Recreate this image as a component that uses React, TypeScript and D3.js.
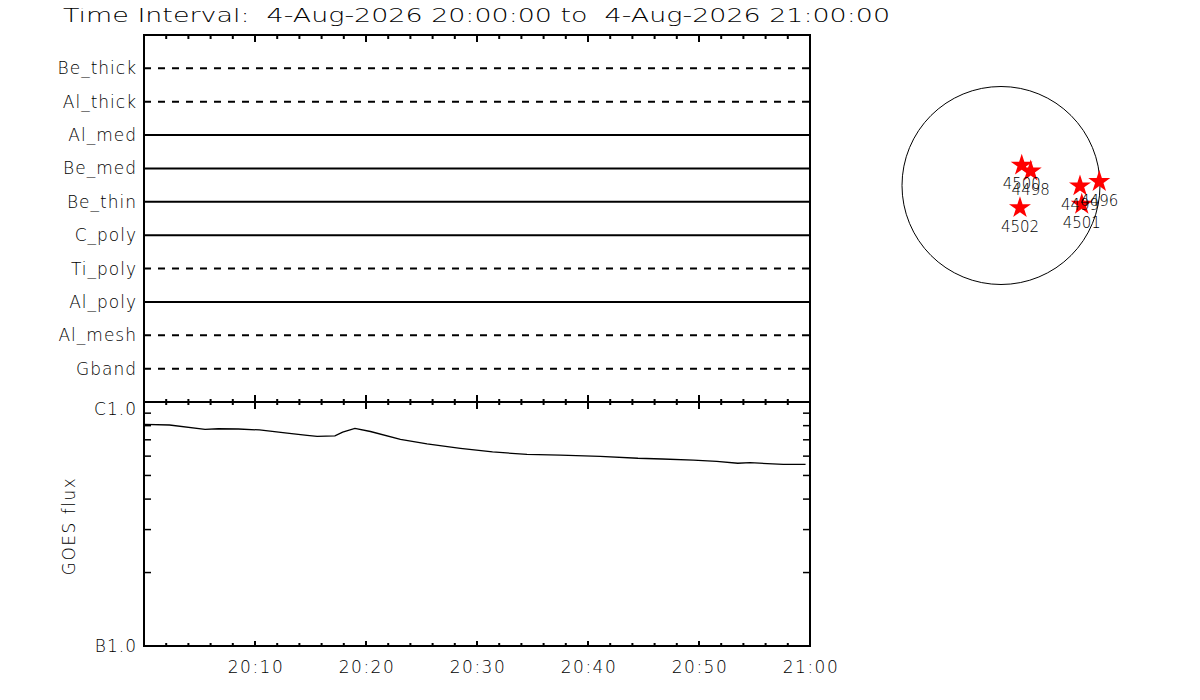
import React from "react";
import * as d3 from "d3";

// filter rows of the upper panel (top to bottom)
const filters = ["Be_thick", "Al_thick", "Al_med", "Be_med", "Be_thin", "C_poly", "Ti_poly", "Al_poly", "Al_mesh", "Gband"];
const filterDashed = [true, true, false, false, false, false, true, false, true, true];

// GOES flux, minutes after 20:00 UT / W m^-2
const goesMinutes = [0, 2.3, 5.5, 6.7, 8.5, 10.4, 12.9, 14.7, 15.6, 17.2, 17.9, 19.0, 20.4, 23.1, 25.5, 28.5, 31.4, 34.5, 37.5, 41.1, 44.5, 46.7, 49.5, 51.6, 53.5, 54.6, 57.6, 59.6];
const goesFlux = [8.1e-7, 8.05e-7, 7.73e-7, 7.77e-7, 7.75e-7, 7.68e-7, 7.46e-7, 7.3e-7, 7.23e-7, 7.26e-7, 7.53e-7, 7.8e-7, 7.57e-7, 7.03e-7, 6.73e-7, 6.46e-7, 6.24e-7, 6.1e-7, 6.06e-7, 5.99e-7, 5.88e-7, 5.84e-7, 5.78e-7, 5.71e-7, 5.61e-7, 5.64e-7, 5.55e-7, 5.55e-7];

// active regions on the disk (arcsec, solar x / y)
const arNumbers = ["4500", "4498", "4502", "4499", "4496", "4501"];
const arX = [201, 288, 184, 766, 953, 783];
const arY = [206, 150, -206, 5, 47, -173];

const FONT = "'DejaVu Sans', 'Liberation Sans', sans-serif";

const App = () => {
  const W = 1200;
  const H = 700;
  const left = 144;
  const right = 810;
  const top1 = 35;
  const bot1 = 402;
  const bot2 = 646;

  const t0 = new Date(Date.UTC(2026, 7, 4, 20, 0, 0));
  const t1 = new Date(Date.UTC(2026, 7, 4, 21, 0, 0));
  const x = d3.scaleUtc().domain([t0, t1]).range([left, right]);
  const majorTicks = x.ticks(d3.utcMinute.every(10)!);
  const minorTicks = x.ticks(d3.utcMinute.every(2)!);
  const fmt = d3.utcFormat("%H:%M");

  const yRow = d3.scalePoint<string>().domain(filters).range([top1, bot1]).padding(1);
  const yLog = d3.scaleLog().domain([1e-7, 1e-6]).range([bot2, bot1]);
  const logTicks = d3.range(2, 10).map((k) => k * 1e-7);

  const goesLine = d3
    .line<number>()
    .x((_, i) => x(new Date(t0.getTime() + goesMinutes[i] * 60000)))
    .y((d) => yLog(d));

  // disk
  const cx = 1001;
  const cy = 185.5;
  const rDisk = 99;
  const sx = d3.scaleLinear().domain([-960, 960]).range([cx - rDisk, cx + rDisk]);
  const sy = d3.scaleLinear().domain([-960, 960]).range([cy + rDisk, cy - rDisk]);
  const star = d3.symbol(d3.symbolStar, 150)()!;

  const tickLen = (t: Date, major: number, minor: number) =>
    majorTicks.some((m) => +m === +t) ? major : minor;

  return (
    <svg width={W} height={H} style={{ display: "block", margin: -8, background: "#fff" }} fontFamily={FONT} fontWeight={200}>
      <rect width={W} height={H} fill="#fff" />
      <text x={63} y={22} fontSize={19} textLength={827} lengthAdjust="spacingAndGlyphs" style={{ whiteSpace: "pre" }}>
        {"Time Interval:  4-Aug-2026 20:00:00 to  4-Aug-2026 21:00:00"}
      </text>

      {/* upper panel rows */}
      {filters.map((f, i) => (
        <g key={f}>
          <line
            x1={left}
            x2={right}
            y1={yRow(f)}
            y2={yRow(f)}
            stroke="#000"
            strokeWidth={2}
            strokeDasharray={filterDashed[i] ? "7,7" : undefined}
          />
          <text x={137} y={yRow(f)! + 6} fontSize={17} letterSpacing={1} textAnchor="end">
            {f}
          </text>
        </g>
      ))}

      {/* time ticks */}
      {minorTicks.map((t, i) => (
        <g key={i} stroke="#000" strokeWidth={2}>
          <line x1={x(t)} x2={x(t)} y1={top1} y2={top1 + tickLen(t, 7, 4)} />
          <line x1={x(t)} x2={x(t)} y1={bot1} y2={bot1 - tickLen(t, 7, 3)} />
          <line x1={x(t)} x2={x(t)} y1={bot1} y2={bot1 + tickLen(t, 7, 3)} />
          <line x1={x(t)} x2={x(t)} y1={bot2} y2={bot2 - tickLen(t, 5, 3)} />
        </g>
      ))}
      {majorTicks.slice(1).map((t, i) => (
        <text key={i} x={x(t) + 1} y={673} fontSize={17} letterSpacing={1.5} textAnchor="middle">
          {fmt(t)}
        </text>
      ))}

      {/* log ticks */}
      {logTicks.map((v, i) => (
        <g key={i} stroke="#000" strokeWidth={1.5}>
          <line x1={left} x2={left + 7} y1={yLog(v)} y2={yLog(v)} />
          <line x1={right} x2={right - 7} y1={yLog(v)} y2={yLog(v)} />
        </g>
      ))}
      <text x={137} y={415} fontSize={17} letterSpacing={1} textAnchor="end">C1.0</text>
      <text x={137} y={652} fontSize={17} letterSpacing={1} textAnchor="end">B1.0</text>
      <text transform={`translate(75,${(bot1 + bot2) / 2 + 2}) rotate(-90)`} fontSize={17} letterSpacing={1.5} textAnchor="middle">
        GOES flux
      </text>

      <path d={goesLine(goesFlux)!} fill="none" stroke="#000" strokeWidth={1.3} />

      {/* frames */}
      <g fill="none" stroke="#000" strokeWidth={2}>
        <rect x={left} y={top1} width={right - left} height={bot1 - top1} />
        <rect x={left} y={bot1} width={right - left} height={bot2 - bot1} />
      </g>

      {/* solar disk */}
      <circle cx={cx} cy={cy} r={rDisk} fill="none" stroke="#000" strokeWidth={1} />
      {arNumbers.map((n, i) => (
        <path key={"s" + n} d={star} transform={`translate(${sx(arX[i])},${sy(arY[i]) + 1})`} fill="#ff0000" />
      ))}
      {arNumbers.map((n, i) => (
        <text key={"t" + n} x={sx(arX[i])} y={sy(arY[i]) + 25} fontSize={15} textAnchor="middle">
          {n}
        </text>
      ))}
    </svg>
  );
};

export default App;
